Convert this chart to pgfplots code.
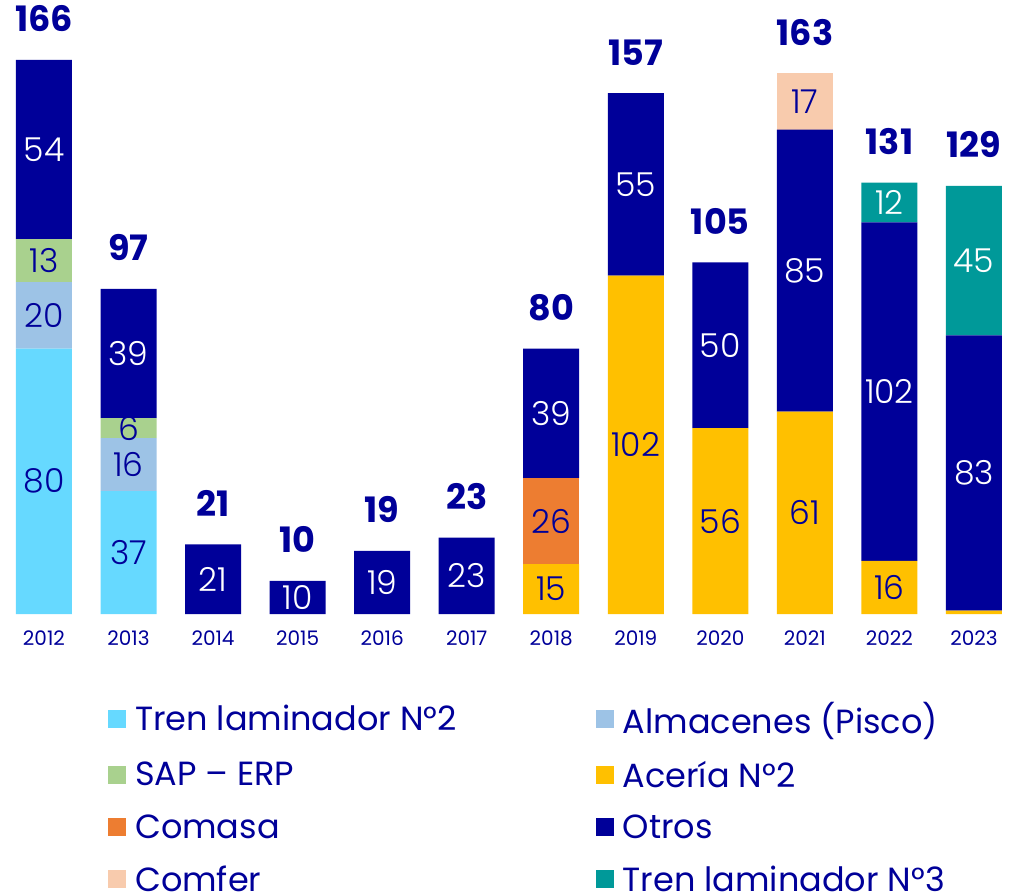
\documentclass[border=0pt]{standalone}
\usepackage{pgfplots}
\pgfplotsset{compat=1.18}
\usepackage{pgfplotstable}
\usepackage{fontspec}
\setmainfont{Poppins}
\newfontfamily\lightfont{Poppins}[UprightFont=* Light]
\definecolor{navy}{HTML}{000099}
\definecolor{cTren}{HTML}{66D9FF}
\definecolor{cAlm}{HTML}{9DC3E6}
\definecolor{cSap}{HTML}{A9D18E}
\definecolor{cAce}{HTML}{FFC000}
\definecolor{cCom}{HTML}{ED7D31}
\definecolor{cOtr}{HTML}{000099}
\definecolor{cCmf}{HTML}{F8CBAD}
\definecolor{cTr3}{HTML}{009999}

\pgfplotstableread{
x tren alm sap aceria comasa otros comfer tren3
0 80 20 13 0 0 54 0 0
1 37 16 6 0 0 39 0 0
2 0 0 0 0 0 21 0 0
3 0 0 0 0 0 10 0 0
4 0 0 0 0 0 19 0 0
5 0 0 0 0 0 23 0 0
6 0 0 0 15 26 39 0 0
7 0 0 0 102 0 55 0 0
8 0 0 0 56 0 50 0 0
9 0 0 0 61 0 85 17 0
10 0 0 0 16 0 102 0 12
11 0 0 0 1 0 83 0 45
}\data

% stack top and the total shown above it
\pgfplotstableread{
x top total
0 167 166
1 98 97
2 21 21
3 10 10
4 19 19
5 23 23
6 80 80
7 157 157
8 106 105
9 163 163
10 130 131
11 129 129
}\totals

\pgfplotstableread{
x y lab
0 140 54
1 78.5 39
2 10.5 21
3 5 10
4 9.5 19
5 11.5 23
6 60.5 39
7 129.5 55
8 81 50
9 103.5 85
10 67 102
10 124 12
11 42.5 83
11 106.5 45
}\whitelabels

\pgfplotstableread{
x y lab
0 40 80
0 90 20
0 106.5 13
1 18.5 37
1 45 16
1 56 6
6 7.5 15
6 28 26
7 51 102
8 28 56
9 30.5 61
9 154.5 17
10 8 16
}\navylabels

\pgfplotsset{
  basegeom/.style={
    scale only axis, width=1012bp, height=614bp,
    xmin=-0.52, xmax=11.45, ymin=0, ymax=185.05,
    at={(0,0)}, anchor=south west, clip=false,
  },
  segbar/.style={fill=#1, draw=none},
}

\begin{document}
\begin{tikzpicture}
\useasboundingbox (0,-280bp) rectangle (1012bp,614bp);
\begin{axis}[
  basegeom,
  ybar stacked, bar width=56bp,
  axis line style={draw=none},
  ytick=\empty,
  xtick={0,...,11},
  xticklabels={2012,2013,2014,2015,2016,2017,2018,2019,2020,2021,2022,2023},
  major tick length=0pt,
  xticklabel style={font=\fontsize{20bp}{22bp}\selectfont, text=navy, yshift=-13bp},
  legend columns=2,
  legend cell align=left,
  legend image code/.code={\fill[#1] (0bp,-9bp) rectangle (18bp,9bp);},
  legend style={
    at={(0.1067,-0.14)}, anchor=north west,
    draw=none, fill=none, inner sep=0pt,
    font=\fontsize{33.5bp}{38bp}\selectfont, text=navy,
    row sep=22bp,
    /tikz/every odd column/.append style={column sep=7bp},
    /tikz/every even column/.append style={column sep=137bp},
  },
]
\addplot[segbar=cTren] table[x=x,y=tren]{\data};
\addlegendentry{Tren laminador N°2}
\addplot[segbar=cAlm] table[x=x,y=alm]{\data};
\addlegendentry{Almacenes (Pisco)}
\addplot[segbar=cSap] table[x=x,y=sap]{\data};
\addlegendentry{SAP – ERP}
\addplot[segbar=cAce] table[x=x,y=aceria]{\data};
\addlegendentry{Acería N°2}
\addplot[segbar=cCom] table[x=x,y=comasa]{\data};
\addlegendentry{Comasa}
\addplot[segbar=cOtr] table[x=x,y=otros]{\data};
\addlegendentry{Otros}
\addplot[segbar=cCmf] table[x=x,y=comfer]{\data};
\addlegendentry{Comfer}
\addplot[segbar=cTr3] table[x=x,y=tren3]{\data};
\addlegendentry{Tren laminador N°3}
\end{axis}
\begin{axis}[
  basegeom, hide axis,
]
\addplot[only marks, mark=none, nodes near coords, point meta=explicit symbolic,
  every node near coord/.append style={anchor=center, inner sep=0pt,
    font=\fontsize{33bp}{38bp}\lightfont, text=white}]
  table[x=x,y=y,meta=lab]{\whitelabels};
\addplot[only marks, mark=none, nodes near coords, point meta=explicit symbolic,
  every node near coord/.append style={anchor=center, inner sep=0pt,
    font=\fontsize{33bp}{38bp}\lightfont, text=navy}]
  table[x=x,y=y,meta=lab]{\navylabels};
\addplot[only marks, mark=none, nodes near coords, point meta=explicit symbolic,
  every node near coord/.append style={anchor=base, inner sep=0pt, yshift=28bp,
    font=\fontsize{35bp}{40bp}\selectfont\bfseries, text=navy}]
  table[x=x,y=top,meta=total]{\totals};
\end{axis}
\end{tikzpicture}
\end{document}
